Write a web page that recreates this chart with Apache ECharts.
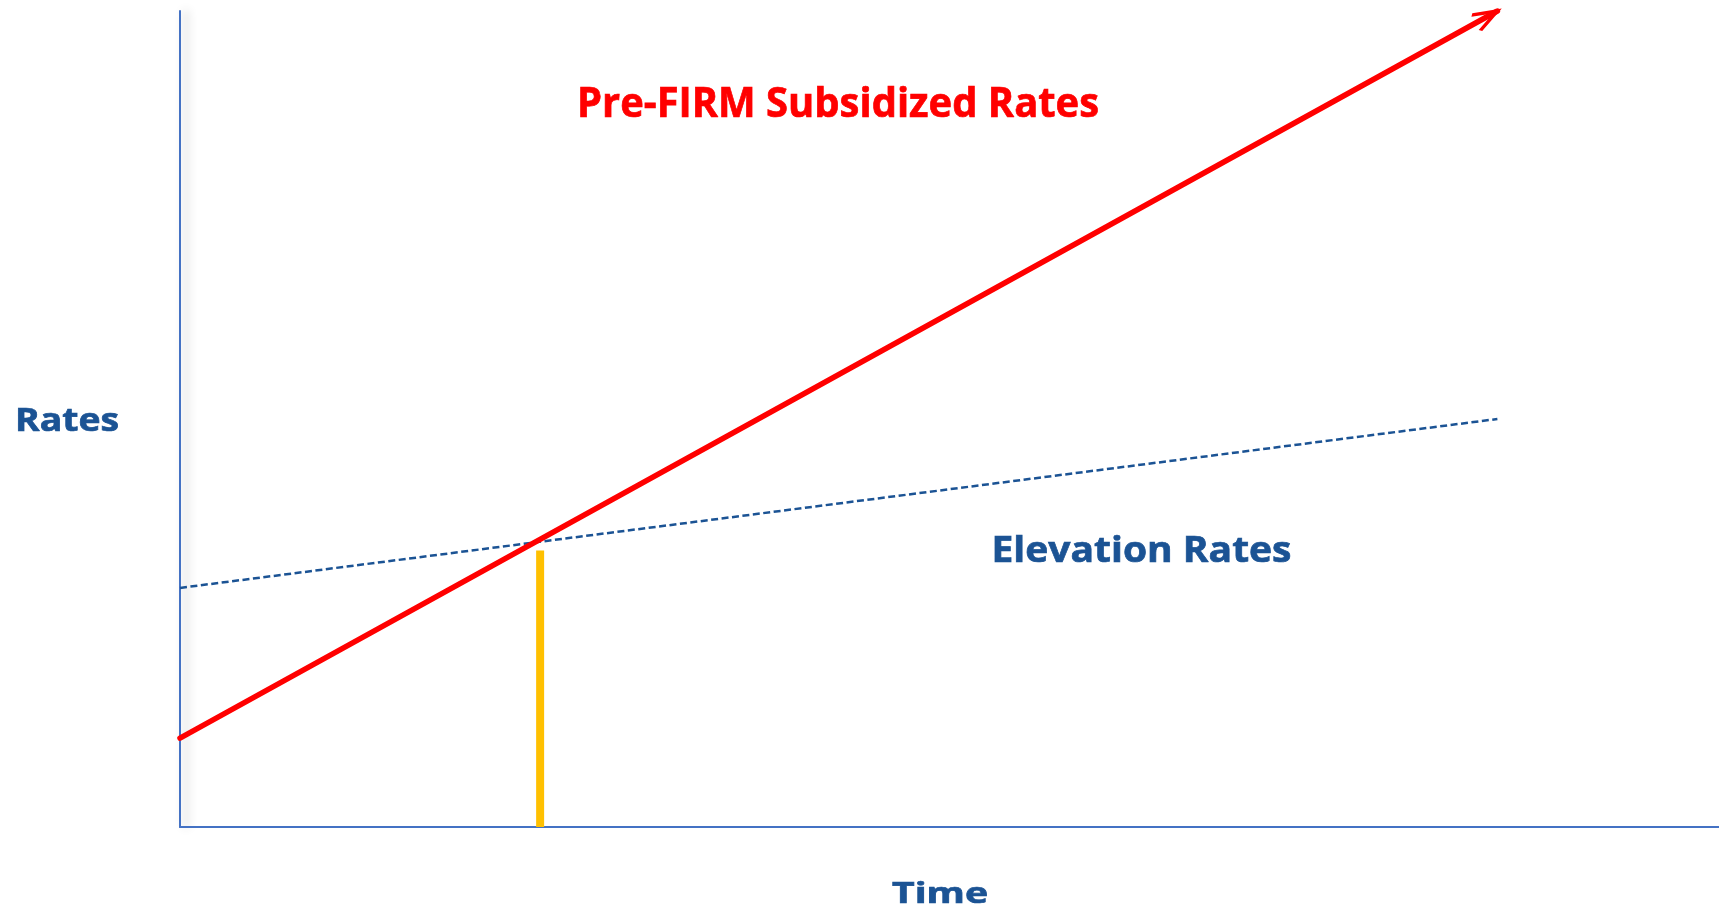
<!DOCTYPE html>
<html>
<head>
<meta charset="utf-8">
<script src="https://cdn.jsdelivr.net/npm/echarts@6/dist/echarts.min.js"></script>
<style>
html,body{margin:0;padding:0;background:#fff;}
#chart{width:1719px;height:912px;}
</style>
</head>
<body>
<div id="chart"></div>
<script>
// ---- data (abstract units, 0-100 on both axes) ----
const timePoints = [0, 85.6];
const subsidizedRates = [10.9, 100];
const elevationRates = [29.3, 50.0];
const crossoverTime = [23.4, 23.4];
const crossoverLevel = [0, 33.9];

const titleText = 'Pre-FIRM Subsidized Rates';
const elevationText = 'Elevation Rates';
const yName = 'Rates';
const xName = 'Time';

const FONT = '"Open Sans", sans-serif';
const BLUE = '#1B5394';
const RED = '#FF0000';

// open chevron arrow head, tip at centre of its box (pointing up)
const chevron = 'path://M3.835 43 L20 15 L36.165 43 L31.835 45.5 L20 25 L8.165 45.5 Z M20 -5.5 L20.01 -5.5 Z';

// text boxes: target width and cap height (px), centre x, centre y
function textEl(text, color, targetW, cap, cx, cy) {
  const size = cap / 0.714;
  const c = document.createElement('canvas').getContext('2d');
  c.font = 'bold ' + size + 'px ' + FONT;
  const w = c.measureText(text).width;
  return {
    type: 'text', x: cx, y: cy, scaleX: targetW / w, z: 10,
    style: {text: text, fill: color, stroke: color, lineWidth: 0.7,
      font: 'bold ' + size + 'px ' + FONT, align: 'center', verticalAlign: 'middle'}
  };
}

const chart = echarts.init(document.getElementById('chart'), null, {renderer: 'canvas'});

function build(rot) {
  const redData = timePoints.map((t, i) => {
    const item = {value: [t, subsidizedRates[i]]};
    if (i === timePoints.length - 1) {
      item.symbol = chevron;
      item.symbolSize = [32.33, 51];
      item.symbolKeepAspect = true;
      item.symbolRotate = rot;
      item.itemStyle = {color: RED, borderWidth: 0};
    } else {
      item.symbol = 'none';
    }
    return item;
  });
  return {
    animation: false,
    backgroundColor: '#ffffff',
    grid: {left: 180, right: 0, top: 11, bottom: 85, containLabel: false},
    xAxis: {
      type: 'value', min: 0, max: 100,
      axisLine: {show: true, lineStyle: {color: '#4472C4', width: 2}},
      axisTick: {show: false}, axisLabel: {show: false}, splitLine: {show: false}
    },
    yAxis: {
      type: 'value', min: 0, max: 100,
      axisLine: {show: true, lineStyle: {color: '#4472C4', width: 2,
        shadowColor: 'rgba(0,0,0,0.3)', shadowBlur: 10, shadowOffsetX: 6}},
      axisTick: {show: false}, axisLabel: {show: false}, splitLine: {show: false}
    },
    series: [
      {
        type: 'line',
        data: timePoints.map((t, i) => [t, elevationRates[i]]),
        symbol: 'none',
        lineStyle: {color: BLUE, width: 2.5, type: [7, 3.5]},
        z: 2
      },
      {
        type: 'line',
        data: crossoverTime.map((t, i) => [t, crossoverLevel[i]]),
        symbol: 'none',
        lineStyle: {color: '#FFC000', width: 8, cap: 'butt'},
        z: 3
      },
      {
        type: 'line',
        data: redData,
        showSymbol: true,
        lineStyle: {color: RED, width: 5.5, cap: 'round'},
        z: 4
      }
    ],
    graphic: [
      textEl(titleText, RED, 522, 30, 838, 105.5),
      textEl(elevationText, BLUE, 300, 26, 1141.5, 551.5),
      textEl(yName, BLUE, 104, 23, 67, 422),
      textEl(xName, BLUE, 96, 21, 940, 894.5)
    ]
  };
}

chart.setOption(build(-61));
const p0 = chart.convertToPixel({gridIndex: 0}, [timePoints[0], subsidizedRates[0]]);
const p1 = chart.convertToPixel({gridIndex: 0}, [timePoints[1], subsidizedRates[1]]);
const ang = Math.atan2(p0[1] - p1[1], p1[0] - p0[0]) * 180 / Math.PI;
chart.setOption(build(ang - 90));
</script>
</body>
</html>
